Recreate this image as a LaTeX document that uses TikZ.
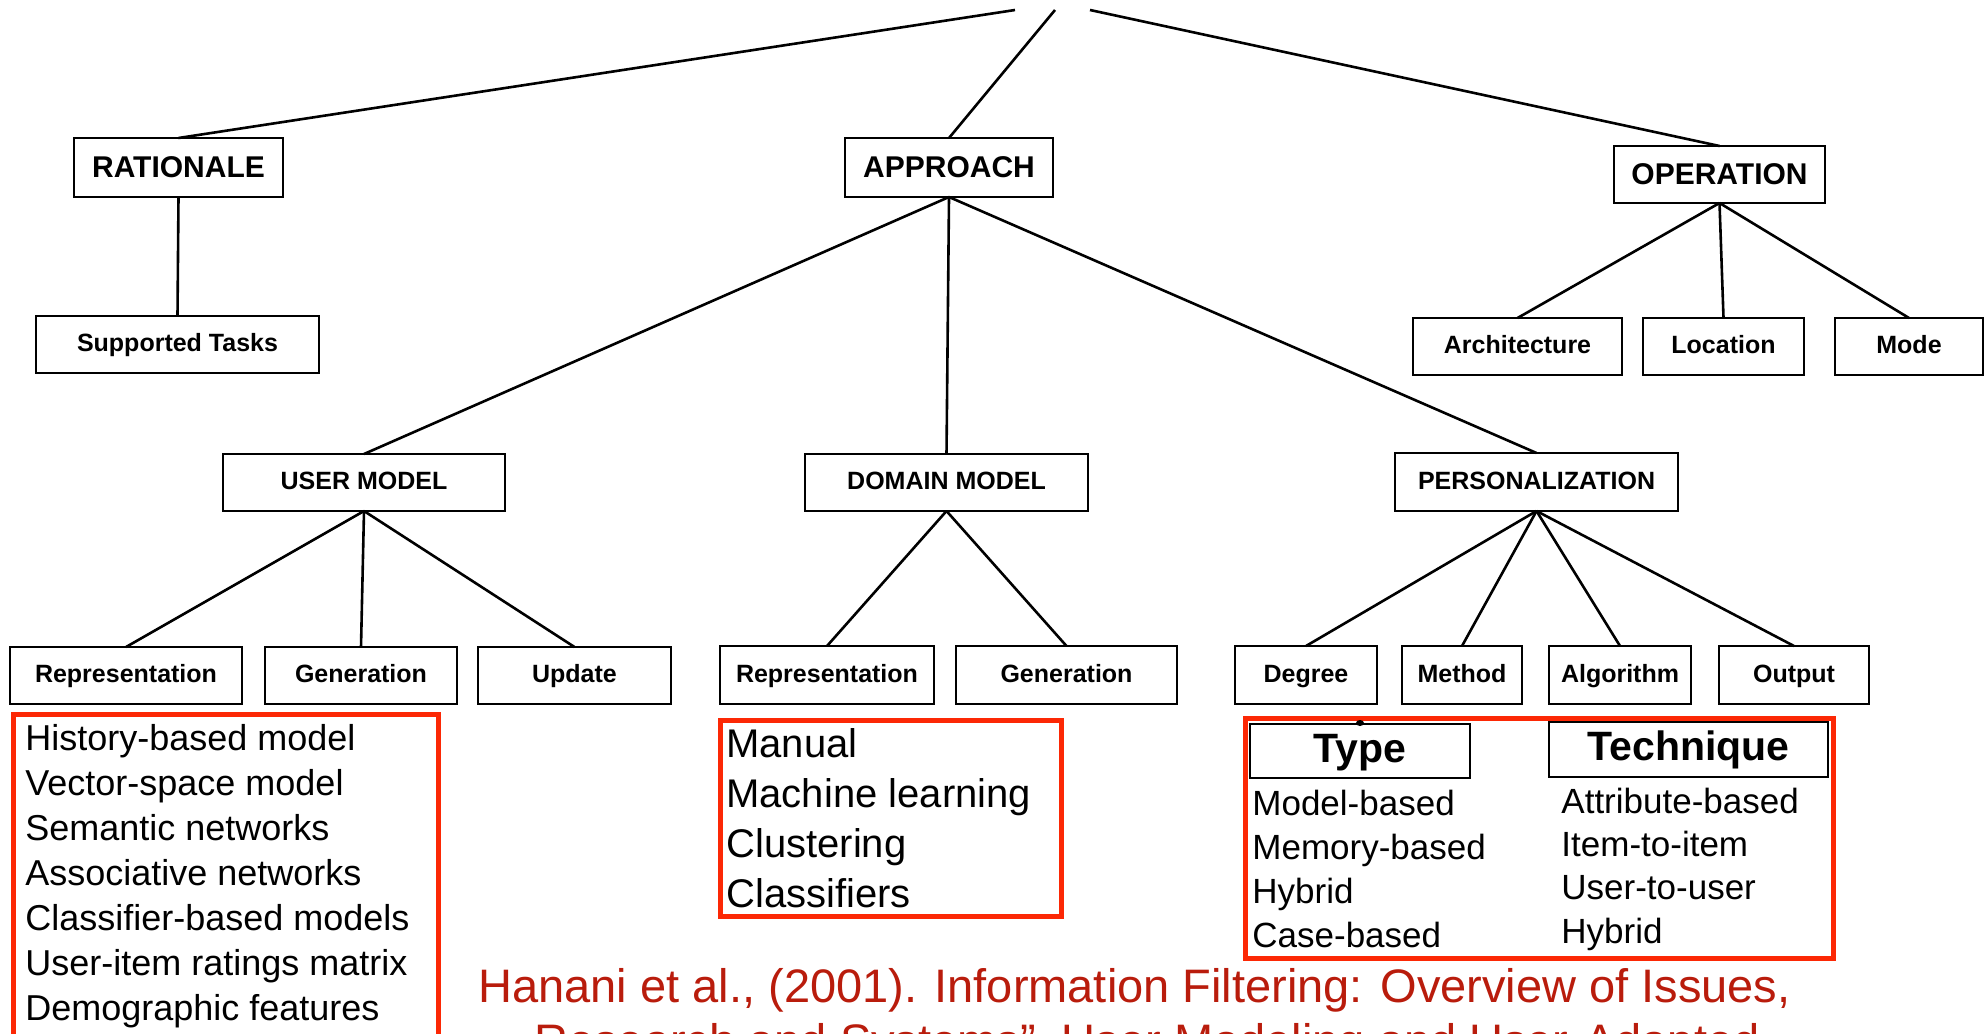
\documentclass[tikz,border=0pt]{standalone}
\usepackage{fontspec}
\setmainfont{Liberation Sans}
\definecolor{redbox}{RGB}{252,40,5}
\definecolor{citered}{RGB}{185,28,12}
\newcommand\mkbox[7]{\node[#1, minimum width={(#5-#3)*0.5pt}, minimum height={(#6-#4)*0.5pt}] (#2) at ({(#3+#5)/2},{(#4+#6)/2}) {#7};}
\begin{document}
\begin{tikzpicture}[x=0.5pt,y=-0.5pt,
  box/.style={draw=black, line width=1pt, fill=white, inner sep=0pt, outer sep=0pt, text height=9pt, text depth=2pt, font=\fontsize{12.5}{14}\selectfont\bfseries},
  topbox/.style={box, text height=11pt, text depth=1.5pt, font=\fontsize{15}{17}\selectfont\bfseries},
  hdrbox/.style={box, line width=0.8pt, text height=15pt, text depth=4pt, font=\fontsize{20.5}{23}\selectfont\bfseries},
  link/.style={line width=1.3pt, draw=black},
  redframe/.style={draw=redbox, line width=2.5pt},
  ulist/.style={anchor=base west, inner sep=0pt, font=\fontsize{18}{20}\selectfont},
  dlist/.style={anchor=base west, inner sep=0pt, font=\fontsize{20}{22}\selectfont},
  plist/.style={anchor=base west, inner sep=0pt, font=\fontsize{17.5}{20}\selectfont},
  cite/.style={anchor=base west, inner sep=0pt, text=citered, font=\fontsize{23.5}{26}\selectfont}
]
\useasboundingbox (0,0) rectangle (1984,1033);
\clip (0,0) rectangle (1984,1033);

% free ends of the links to the (cropped) root
\coordinate (rootL) at (1015,10);
\coordinate (rootM) at (1055,10);
\coordinate (rootR) at (1090,10);

% level 1
\mkbox{topbox}{rat}{74}{138}{283}{197}{RATIONALE}
\mkbox{topbox}{app}{845}{138}{1053}{197}{APPROACH}
\mkbox{topbox}{ope}{1614}{146}{1825}{203}{OPERATION}

% level 2
\mkbox{box}{sup}{36}{316}{319}{373}{Supported Tasks}
\mkbox{box}{arch}{1413}{318}{1622}{375}{Architecture}
\mkbox{box}{loc}{1643}{318}{1804}{375}{Location}
\mkbox{box}{mode}{1835}{318}{1983}{375}{Mode}
\mkbox{box}{um}{223}{454}{505}{511}{USER MODEL}
\mkbox{box}{dm}{805}{454}{1088}{511}{DOMAIN MODEL}
\mkbox{box}{pers}{1395}{453}{1678}{511}{PERSONALIZATION}

% level 3
\mkbox{box}{urep}{10}{647}{242}{704}{Representation}
\mkbox{box}{ugen}{265}{647}{457}{704}{Generation}
\mkbox{box}{uupd}{478}{647}{671}{704}{Update}
\mkbox{box}{drep}{720}{646}{934}{704}{Representation}
\mkbox{box}{dgen}{956}{646}{1177}{704}{Generation}
\mkbox{box}{deg}{1235}{646}{1377}{704}{Degree}
\mkbox{box}{meth}{1402}{646}{1522}{704}{Method}
\mkbox{box}{alg}{1549}{646}{1691}{704}{Algorithm}
\mkbox{box}{out}{1719}{646}{1869}{704}{Output}

% links
\draw[link] (rootL) -- (rat.north);
\draw[link] (rootM) -- (app.north);
\draw[link] (rootR) -- (ope.north);
\draw[link] (rat.south) -- (sup.north);
\draw[link] (app.south) -- (um.north);
\draw[link] (app.south) -- (dm.north);
\draw[link] (app.south) -- (pers.north);
\draw[link] (ope.south) -- (arch.north);
\draw[link] (ope.south) -- (loc.north);
\draw[link] (ope.south) -- (mode.north);
\draw[link] (um.south) -- (urep.north);
\draw[link] (um.south) -- (ugen.north);
\draw[link] (um.south) -- (uupd.north);
\draw[link] (dm.south) -- (drep.north);
\draw[link] (dm.south) -- (dgen.north);
\draw[link] (pers.south) -- (deg.north);
\draw[link] (pers.south) -- (meth.north);
\draw[link] (pers.south) -- (alg.north);
\draw[link] (pers.south) -- (out.north);

% red frames
\draw[redframe] (13.5,714) rectangle (438,1060);
\draw[redframe] (720,720) rectangle (1061,916);
\draw[redframe] (1245,718) rectangle (1833,958);

% user model representation list
\foreach \t [count=\i] in {History-based model, Vector-space model, Semantic networks, Associative networks, Classifier-based models, User-item ratings matrix, Demographic features}
  \node[ulist] (u\i) at (25,{705+45*\i}) {\t};

% domain model generation list
\foreach \t [count=\i] in {Manual, Machine learning, Clustering, Classifiers}
  \node[dlist] (d\i) at (726,{707+50*\i}) {\t};

% personalization table
\mkbox{hdrbox}{type}{1250}{724}{1470}{778}{Type}
\mkbox{hdrbox}{tech}{1549}{722}{1828}{777}{Technique}
\fill[black] (1360,723) ellipse (4 and 3);
\foreach \t [count=\i] in {Model-based, Memory-based, Hybrid, Case-based}
  \node[plist] (ty\i) at (1252,{771+44*\i}) {\t};
\foreach \t [count=\i] in {Attribute-based, Item-to-item, User-to-user, Hybrid}
  \node[plist] (te\i) at (1561,{770+43.3*\i}) {\t};

% citation
\node[cite] (cite1) at (478,1002) {Hanani et al., (2001). Information Filtering: Overview of Issues,};
\node[cite] (cite2) at (534,1057) {Research and Systems", User Modeling and User-Adapted};
\end{tikzpicture}
\end{document}
